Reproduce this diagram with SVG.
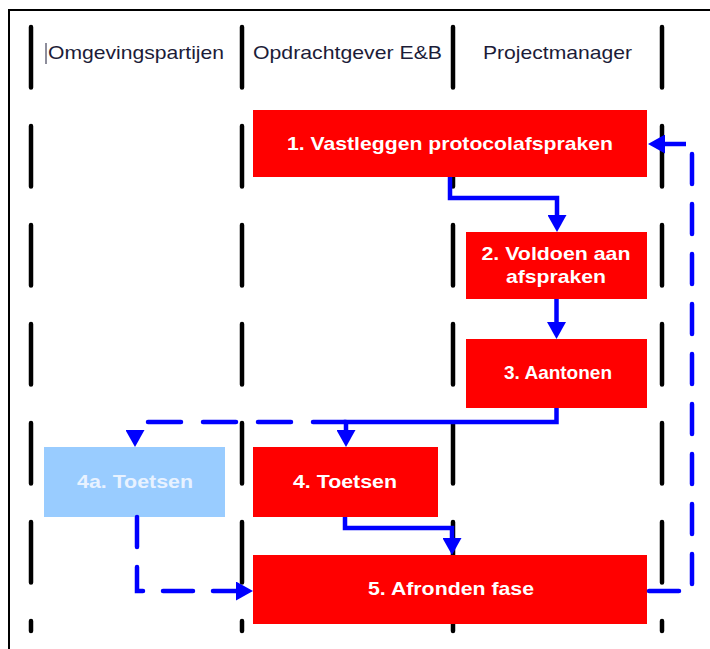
<svg xmlns="http://www.w3.org/2000/svg" width="710" height="649" viewBox="0 0 710 649">
<defs>
<style>
.frame{stroke:#000;stroke-width:2;fill:none}
.lane{stroke:#000;stroke-width:4.5;stroke-linecap:round;stroke-dasharray:60.5 38.5;fill:none}
.hdr{font-family:"Liberation Sans",Arial,sans-serif;font-size:19px;fill:#1c1c38;text-anchor:middle}
.box{fill:#ff0000}
.boxl{fill:#99ccff}
.lbl{font-family:"Liberation Sans",Arial,sans-serif;font-size:18.5px;font-weight:bold;fill:#ffffff;text-anchor:middle}
.lbll{fill:#e8f2ff}
.c{stroke:#0000ff;stroke-width:4.5;fill:none;stroke-linejoin:miter}
.d{stroke-dasharray:30 20;stroke-linecap:round}
</style>
<marker id="ah" markerUnits="userSpaceOnUse" markerWidth="17" markerHeight="19" refX="0" refY="9.5" orient="auto" viewBox="0 0 17 19">
<path d="M0,0 L17,9.5 L0,19 z" fill="#0000ff"/>
</marker>
</defs>
<rect width="710" height="649" fill="#ffffff"/>
<path class="frame" d="M9,649 V10 H710"/>
<g id="lanes">
<line class="lane" x1="31" y1="27" x2="31" y2="631"/>
<line class="lane" x1="242" y1="27" x2="242" y2="631"/>
<line class="lane" x1="453" y1="27" x2="453" y2="631"/>
<line class="lane" x1="662" y1="27" x2="662" y2="631"/>
</g>
<g id="headers">
<line x1="46" y1="43" x2="46" y2="64" stroke="#1c1c38" stroke-width="1"/>
<text class="hdr" x="136" y="59" textLength="176" lengthAdjust="spacingAndGlyphs">Omgevingspartijen</text>
<text class="hdr" x="347.5" y="59" textLength="189" lengthAdjust="spacingAndGlyphs">Opdrachtgever E&amp;B</text>
<text class="hdr" x="557.5" y="59" textLength="149" lengthAdjust="spacingAndGlyphs">Projectmanager</text>
</g>
<g id="n1"><rect class="box" x="253" y="110" width="394" height="67"/><text class="lbl" x="450" y="150" textLength="326" lengthAdjust="spacingAndGlyphs">1. Vastleggen protocolafspraken</text></g>
<g id="n2"><rect class="box" x="466" y="232" width="181" height="67"/><text class="lbl" x="556" y="260" textLength="149" lengthAdjust="spacingAndGlyphs">2. Voldoen aan</text><text class="lbl" x="556" y="283" textLength="100" lengthAdjust="spacingAndGlyphs">afspraken</text></g>
<g id="n3"><rect class="box" x="466" y="339" width="181" height="69"/><text class="lbl" x="558" y="379" textLength="108" lengthAdjust="spacingAndGlyphs">3. Aantonen</text></g>
<g id="n4a"><rect class="boxl" x="44" y="447" width="181" height="70"/><text class="lbl lbll" x="135" y="488" textLength="116" lengthAdjust="spacingAndGlyphs">4a. Toetsen</text></g>
<g id="n4"><rect class="box" x="253" y="447" width="185" height="70"/><text class="lbl" x="345" y="488" textLength="104" lengthAdjust="spacingAndGlyphs">4. Toetsen</text></g>
<g id="n5"><rect class="box" x="253" y="555" width="394" height="69"/><text class="lbl" x="451" y="595" textLength="166" lengthAdjust="spacingAndGlyphs">5. Afronden fase</text></g>
<g id="connectors">
<path class="c" d="M450,177 V198 H557 V215" marker-end="url(#ah)"/>
<path class="c" d="M556.5,299 V322" marker-end="url(#ah)"/>
<path class="c d" style="stroke-dasharray:33 22" d="M346,422 H135 V430" marker-end="url(#ah)"/>
<path class="c" d="M556.5,408 V422 H346 V430" marker-end="url(#ah)"/>
<path class="c" d="M345,517 V528 H452 V538" marker-end="url(#ah)"/>
<path class="c d" d="M137,517 V591 H236" marker-end="url(#ah)"/>
<path class="c d" d="M649,591 H692 V152"/>
<path class="c" d="M686,144 H665" marker-end="url(#ah)"/>
</g>
</svg>
